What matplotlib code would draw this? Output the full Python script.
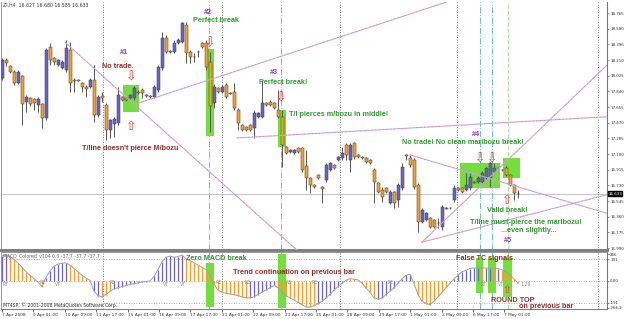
import numpy as np
import matplotlib.pyplot as plt
from matplotlib.patches import Rectangle
from matplotlib.transforms import blended_transform_factory

W, H = 625, 319

# ZI, H4 candles (oldest first)
opens = [18.00, 18.21, 18.14, 18.07, 17.94, 18.02, 17.71, 17.76, 17.75, 17.68,
         17.69, 17.53, 18.36, 18.23, 18.15, 18.12, 18.09, 18.33, 17.97, 17.97,
         17.94, 17.89, 17.89, 17.97, 17.56, 17.79, 17.68, 17.38, 17.45, 17.47,
         17.77, 17.76, 17.76, 17.76, 17.83, 17.86, 17.80, 17.79, 17.77, 17.86,
         18.12, 18.47, 18.32, 18.31, 18.41, 18.42, 18.62, 18.31, 18.25, 18.31,
         18.41, 18.41, 18.19, 17.70, 17.88, 17.83, 17.92, 17.82, 17.83, 17.62,
         17.44, 17.42, 17.44, 17.41, 17.54, 17.54, 17.70, 17.71, 17.70, 17.62,
         17.54, 17.18, 17.12, 17.11, 17.17, 17.17, 16.96, 16.82, 16.73, 16.85,
         16.71, 16.79, 16.91, 16.97, 17.03, 17.05, 17.21, 17.03, 17.23, 17.09,
         17.07, 17.05, 17.03, 16.91, 16.76, 16.68, 16.70, 16.52, 16.65, 16.56,
         16.70, 17.09, 17.05, 17.03, 16.73, 16.30, 16.32, 16.34, 16.32, 16.29,
         16.24, 16.46, 16.46, 16.56, 16.70, 16.70, 16.68, 16.70, 16.77, 16.77,
         16.77, 16.82, 16.82, 16.89, 16.93, 16.91, 16.93, 16.85, 16.73, 16.627]
highs = [18.23, 18.23, 18.15, 18.09, 18.09, 18.03, 17.80, 17.77, 17.76, 17.77,
         17.70, 18.35, 18.41, 18.25, 18.22, 18.21, 18.45, 18.42, 18.00, 17.99,
         17.95, 17.92, 18.00, 18.15, 17.80, 17.83, 17.70, 17.51, 17.54, 17.89,
         17.79, 17.77, 17.81, 17.90, 17.86, 17.88, 17.81, 17.80, 17.92, 18.15,
         18.54, 18.51, 18.33, 18.45, 18.47, 18.66, 18.66, 18.33, 18.29, 18.33,
         18.42, 18.45, 18.31, 17.93, 17.89, 17.92, 17.94, 17.83, 17.94, 17.64,
         17.45, 17.43, 17.45, 17.62, 17.60, 17.97, 17.71, 17.74, 17.71, 17.86,
         17.62, 17.20, 17.16, 17.16, 17.18, 17.18, 17.15, 16.83, 16.75, 16.86,
         16.72, 16.99, 17.01, 16.98, 17.08, 17.18, 17.23, 17.23, 17.24, 17.10,
         17.08, 17.07, 17.04, 16.93, 16.77, 16.71, 16.71, 16.68, 16.66, 16.76,
         16.99, 17.10, 17.09, 17.05, 16.76, 16.46, 16.42, 16.36, 16.33, 16.34,
         16.50, 16.47, 16.47, 16.73, 16.71, 16.71, 16.88, 16.88, 16.78, 16.84,
         16.90, 16.95, 17.01, 16.99, 16.95, 16.92, 16.96, 16.86, 16.75, 16.680]
lows = [17.97, 18.14, 18.06, 17.92, 17.93, 17.44, 17.60, 17.67, 17.62, 17.60,
        17.41, 17.50, 18.15, 18.15, 18.14, 18.10, 18.07, 17.83, 17.83, 17.96,
        17.83, 17.77, 17.88, 17.48, 17.54, 17.71, 17.27, 17.29, 17.30, 17.44,
        17.73, 17.73, 17.75, 17.74, 17.81, 17.76, 17.77, 17.76, 17.76, 17.83,
        18.09, 18.29, 18.29, 18.29, 18.40, 18.41, 18.18, 18.18, 18.19, 18.25,
        18.35, 18.09, 17.36, 17.64, 17.82, 17.82, 17.76, 17.81, 17.62, 17.38,
        17.37, 17.37, 17.37, 17.29, 17.53, 17.53, 17.67, 17.67, 17.63, 17.53,
        16.95, 17.10, 17.11, 17.10, 17.11, 16.89, 16.68, 16.64, 16.70, 16.81,
        16.52, 16.77, 16.90, 16.92, 17.02, 17.03, 17.03, 16.89, 17.04, 17.05,
        17.04, 16.99, 16.98, 16.52, 16.64, 16.53, 16.64, 16.51, 16.46, 16.47,
        16.68, 17.03, 16.95, 16.69, 16.18, 16.29, 16.31, 16.23, 16.23, 16.23,
        16.20, 16.45, 16.45, 16.53, 16.66, 16.64, 16.66, 16.68, 16.76, 16.76,
        16.76, 16.79, 16.71, 16.88, 16.92, 16.90, 16.84, 16.72, 16.56, 16.585]
closes = [18.21, 18.18, 18.07, 17.94, 18.07, 17.69, 17.77, 17.69, 17.70, 17.75,
          17.53, 18.33, 18.21, 18.19, 18.21, 18.19, 18.35, 17.94, 17.96, 17.96,
          17.89, 17.87, 17.97, 17.56, 17.77, 17.76, 17.38, 17.50, 17.51, 17.80,
          17.74, 17.74, 17.80, 17.88, 17.82, 17.82, 17.79, 17.77, 17.89, 18.13,
          18.47, 18.31, 18.31, 18.41, 18.45, 18.65, 18.29, 18.25, 18.24, 18.30,
          18.36, 18.13, 17.67, 17.89, 17.83, 17.89, 17.77, 17.81, 17.64, 17.47,
          17.38, 17.38, 17.38, 17.58, 17.58, 17.70, 17.68, 17.68, 17.64, 17.54,
          17.21, 17.11, 17.15, 17.15, 17.12, 16.91, 16.82, 16.73, 16.71, 16.82,
          16.69, 16.97, 16.99, 16.93, 17.07, 17.11, 17.09, 17.21, 17.07, 17.07,
          17.05, 17.01, 16.99, 16.77, 16.65, 16.59, 16.65, 16.65, 16.52, 16.73,
          16.95, 17.08, 16.97, 16.71, 16.30, 16.44, 16.40, 16.24, 16.24, 16.28,
          16.47, 16.45, 16.46, 16.70, 16.68, 16.65, 16.73, 16.83, 16.76, 16.82,
          16.88, 16.93, 16.99, 16.93, 16.93, 16.91, 16.85, 16.73, 16.64, 16.633]

# MACD_Colored histogram, one value per bar, b = blue, o = orange
macd = [220, 235, 215, 190, 160, 120, 80, 50, 20, -10,
        -50, 30, 90, 130, 150, 155, 160, 140, 110, 80,
        50, 25, 5, -90, -130, -140, -120, -90, -70, -60,
        -50, -40, -30, -25, -15, -10, -5, 0, 40, 100,
        170, 210, 220, 210, 215, 230, 195, 180, 160, 140,
        120, 100, 50, -30, -80, -100, -110, -115, -120, -130,
        -140, -150, -150, -140, -120, -100, -80, -60, -40, -60,
        -100, -130, -150, -170, -190, -210, -230, -230, -220, -200,
        -180, -150, -120, -80, -50, -20, 5, 20, 15, 10,
        -20, -60, -100, -150, -160, -150, -120, -90, -60, -20,
        20, 50, 60, -20, -120, -180, -200, -210, -180, -140,
        -100, -60, -20, 20, 50, 80, 95, 110, 115, 115,
        115, 115, 110, 115, 110, 100, 80, 50, 20, -20]
macd_colors = ("bb" "ooooooooo" "bbbbbb" "oooooo" "bb" "ooo"
               "bbbbbbbbbbbbbbbbbb" "oooooooooooooooo" "bbbbbbb" "oooooooooo"
               "bbbbbbbb" "ooooooo" "bbbbbbbbb" "oooooooooo" "bbbbbbb"
               "o" "bb" "o" "b" "ooooo")

date_labels = ["7 Apr 2008", "9 Apr 01:00", "10 Apr 09:00", "11 Apr 17:00",
               "15 Apr 01:00", "16 Apr 09:00", "17 Apr 17:00", "21 Apr 01:00",
               "22 Apr 09:00", "23 Apr 17:00", "25 Apr 01:00", "28 Apr 09:00",
               "29 Apr 17:00", "1 May 01:00", "2 May 09:00", "6 May 17:00",
               "7 May 01:00"]
price_ticks = [18.765, 18.580, 18.396, 18.210, 18.025, 17.840, 17.655, 17.470,
               17.285, 17.100, 16.915, 16.730, 16.545, 16.360, 16.175, 15.990]
last_price = 16.633

# trend lines: (bar0, price0, bar1, price1)
trend_lines = [(15.75, 18.42, 80.0, 15.70),
               (34.0, 17.70, 116.0, 18.97),
               (58.75, 17.29, 151.25, 17.54),
               (105.0, 16.06, 151.25, 18.15),
               (105.0, 16.06, 151.25, 16.62),
               (102.0, 17.09, 151.25, 16.40)]
# green highlight boxes: (bar0, bar1, price_lo, price_hi)
main_boxes = [(30.25, 34.25, 17.60, 17.92), (51.0, 53.0, 17.31, 18.34),
              (69.0, 71.0, 17.18, 17.62), (114.5, 124.5, 16.70, 16.99),
              (125.25, 129.5, 16.82, 17.05)]
macd_boxes = [(51.0, 53.0, -229, 158), (69.0, 71.0, -238, 238),
              (118.5, 120.3, -106, 202), (121.5, 123.5, -106, 202),
              (125.25, 127.5, -141, 202)]
grid_bars = [25.25, 55.0, 84.5, 113.75, 149.0]
signal_bars = [51.75, 69.75, 119.5, 122.5]
signal_bar_last = 126.5

BULL = '#6a62d0'
BEAR = '#ffa11f'
BOX = '#74de3c'
PURPLE = '#9933cc'
GREEN = '#2f9a2f'
DRED = '#992a2a'
FONT = 'Liberation Sans'


def px(x, y):
    return x / W, 1 - y / H


fig = plt.figure(figsize=(W / 100, H / 100), dpi=100)
fig.patch.set_facecolor('white')
ax = fig.add_axes([1 / W, 1 - 250 / H, 606 / W, 248 / H])
ax2 = fig.add_axes([1 / W, 1 - 309 / H, 606 / W, 57 / H])

n = len(opens)
x = np.arange(n)
o = np.array(opens)
c = np.array(closes)
up = c >= o

# --- price panel ---
for b0, b1, lo, hi in main_boxes:
    ax.add_patch(Rectangle((b0, lo), b1 - b0, hi - lo, color=BOX, lw=0, zorder=1))
ax.vlines(x, lows, highs, color='#555555', lw=0.7, zorder=2)
ax.bar(x, c - o, bottom=o, width=0.75, color=np.where(up, BULL, BEAR),
       edgecolor='#3a3a3a', linewidth=0.35, zorder=3)
for b0, p0, b1, p1 in trend_lines:
    ax.plot([b0, b1], [p0, p1], color='#d2a6ea', lw=0.8, zorder=4)
    ax.plot([b0, b1], [p0, p1], color='#d0508c', lw=0.45, ls=(0, (1, 5)), zorder=4)
ax.axhline(last_price, color='#c8c8c8', lw=0.8, zorder=0)

for a in (ax, ax2):
    for g in grid_bars:
        a.axvline(g, color='#555555', lw=0.6, ls=(0, (1, 2)), zorder=0)
    for s in signal_bars:
        a.axvline(s, color='#66c8aa', lw=0.7, ls='-.', zorder=0)
    a.axvline(signal_bar_last, color='#a6e09a', lw=0.8, ls='--', zorder=0)
    a.set_xlim(-0.25, 151.25)
    a.set_facecolor('white')
    for side in ('top', 'left'):
        a.spines[side].set_color('#888888')
        a.spines[side].set_linewidth(0.6)
    a.spines['right'].set_color('#777777')
    a.spines['bottom'].set_color('#808080')
    a.yaxis.tick_right()
    a.tick_params(axis='y', labelsize=2.9, length=1.5, width=0.4, pad=0.8, colors='#333333')
ax.spines['top'].set_visible(False)
ax.spines['bottom'].set_linewidth(2.2)
ax.set_ylim(15.967, 18.895)
ax.set_yticks(price_ticks)
ax.set_yticklabels(['%.3f' % t for t in price_ticks], fontfamily='DejaVu Sans')
ax.set_xticks([])
ax.text(1.002, last_price, '%.3f' % last_price,
        transform=blended_transform_factory(ax.transAxes, ax.transData),
        fontsize=2.9, color='white', va='center', ha='left',
        bbox=dict(boxstyle='square,pad=0.12', fc='black', ec='black'))

# --- MACD panel ---
for b0, b1, lo, hi in macd_boxes:
    ax2.add_patch(Rectangle((b0, lo), b1 - b0, hi - lo, color=BOX, lw=0, zorder=1))
ax2.vlines(x, 0, macd, colors=[BULL if k == 'b' else '#ff9a2a' for k in macd_colors],
           lw=0.9, zorder=2)
ax2.plot(x, macd, color='#a0a0a0', lw=0.7, zorder=3)
for lvl in (191, 0, -191):
    ax2.axhline(lvl, color='#999999', lw=0.6, ls=(0, (1, 2)), zorder=0)
ax2.set_ylim(-248, 256)
ax2.set_yticks([238, 191, 0, -191, -238])
ax2.set_yticklabels(['266', '191', '0.00', '-191', '-266.2'], fontfamily='DejaVu Sans')
ax2.spines['bottom'].set_linewidth(0.8)
tick_pos = np.arange(len(date_labels)) * 7.85
ax2.set_xticks(tick_pos)
ax2.set_xticklabels(date_labels, fontsize=3.1, color='#333333', ha='left', fontfamily='DejaVu Sans')
ax2.tick_params(axis='x', length=2, width=0.4, pad=1)

# --- header texts ---
fig.text(*px(3, 5), 'ZI,H4  16.627 16.680 16.585 16.633', fontsize=3.3, color='#333333', va='center')
fig.text(*px(3, 256), 'MACD_Colored_v104 0.0 -37.7 -37.7 -37.7', fontsize=3.3, color='#666666', va='center')
fig.text(*px(3, 305), 'MT4SP, \u00a9 2001-2008 MetaQuotes Software Corp.', fontsize=3.3, color='#333333', va='center')

# --- MACD small markers ---
for tx, ty, s in [(3, 284, 'RT'), (40, 283, 'RE'), (55, 285, 'VT'), (110, 283, 'RE'),
                  (163, 285, 'VT'), (180, 285, 'VT'), (216, 283, 'RE'), (244, 283, 'RE'),
                  (286, 283, 'RE'), (312, 283, 'RE'), (387, 283, 'RE'), (481, 285, 'RT'),
                  (498, 285, 'VT'), (520, 285, '1.29')]:
    fig.text(*px(tx, ty), s, fontsize=3.3, color='#8a8a8a', va='center')

# --- annotations ---
notes = [(120, 53, '#1', PURPLE), (102, 66, 'No trade.', DRED),
         (82, 148, "T/line doesn't pierce M/bozu", DRED),
         (204, 13, '#2', PURPLE), (193, 21, 'Perfect break', GREEN),
         (270, 73, '#3', PURPLE), (259, 82, 'Perfect break!', GREEN),
         (289, 114, 'T/l pierces m/bozu in middle!', GREEN),
         (472, 135, '#4', PURPLE), (402, 143, 'No trade! No clean maribozu break!', GREEN),
         (487, 211, 'Valid break!', GREEN),
         (470, 222, 'T/line must-pierce the maribozu!', GREEN),
         (501, 231, '...even slightly...', GREEN), (504, 240, '#5', PURPLE),
         (186, 259, 'Zero MACD break', GREEN),
         (233, 273, 'Trend continuation on previous bar', DRED),
         (456, 259, 'False TC signals', DRED),
         (491, 300, 'ROUND TOP', DRED), (519, 306, 'on previous bar', DRED)]
for tx, ty, s, col in notes:
    fig.text(*px(tx, ty), s, fontsize=5.2, color=col, fontweight='bold',
             fontfamily=FONT, va='center', ha='left', zorder=10)

arrows = [(131, 77, '\u21e9', 9), (131, 127, '\u21e7', 9), (210, 43, '\u21e9', 9),
          (281, 98, '\u21e9', 9), (480, 159, '\u21e9', 9), (492, 159, '\u21e9', 9),
          (507, 201, '\u21e7', 9), (507, 290, '\u21e7', 7.5)]
for tx, ty, s, fs in arrows:
    fig.text(*px(tx, ty), s, fontsize=fs, color='#ff3030', fontfamily='DejaVu Sans',
             va='center', ha='center', zorder=10)

plt.savefig('out.png', dpi=100, facecolor='white')
plt.close()
